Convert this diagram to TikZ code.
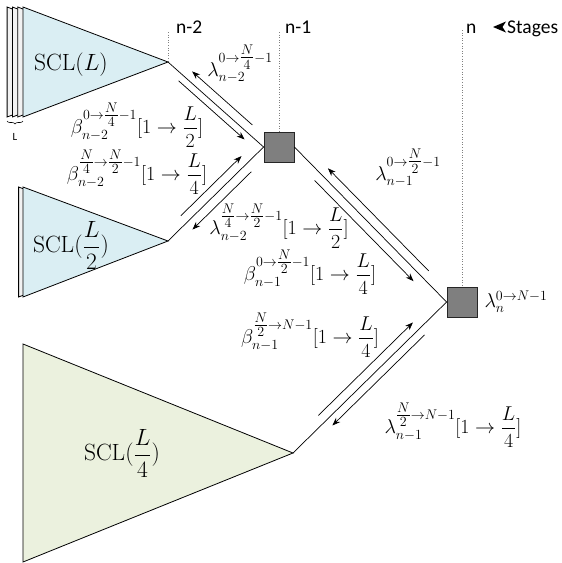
\RequirePackage{fix-cm}
\documentclass[tikz,border=0pt]{standalone}
\usepackage{amsmath}
\usepackage{fontspec}
\newfontfamily\carl{Carlito}
\usetikzlibrary{calc,arrows.meta,decorations.pathreplacing}
\definecolor{triblue}{HTML}{DAEEF3}
\definecolor{trigreen}{HTML}{EBF1DE}
\definecolor{layergray}{HTML}{F2F2F2}
\definecolor{boxgray}{HTML}{7F7F7F}
\newcommand{\supfrac}[2]{\genfrac{}{}{}{1}{#1}{#2}}
\begin{document}
\begin{tikzpicture}[x=1pt,y=-1pt,
  tri/.style={draw=black, line width=0.8pt, line join=miter},
  link/.style={line width=0.7pt},
  flow/.style={line width=0.7pt,-{Stealth[length=8pt,width=6pt]}},
  stagebox/.style={draw=black!85, fill=boxgray, minimum size=30pt, inner sep=0pt, line width=0.8pt},
  stagemark/.style={dotted, line width=0.6pt, black!50},
  mlab/.style={font=\fontsize{20}{24}\selectfont, inner sep=0pt},
  scllab/.style={font=\fontsize{23.5}{28}\selectfont, inner sep=0pt},
  slab/.style={font=\carl\fontsize{19.5}{23}\selectfont, inner sep=0pt}]
\useasboundingbox (0,0) rectangle (562,563);

% triangles
\coordinate (t1) at (168,62);
\coordinate (t2) at (168,241);
\coordinate (t3) at (293,453);
\foreach \d in {15.9,10.6,5.3}
  \draw[tri, fill=layergray] (23-\d,7) -- (168-\d,62) -- (23-\d,117) -- cycle;
\draw[tri, fill=triblue] (23,7) -- (t1) -- (23,117) -- cycle;
\draw[tri, fill=layergray] (18.6,187) -- (163.6,241) -- (18.6,297) -- cycle;
\draw[tri, fill=triblue] (23,187) -- (t2) -- (23,297) -- cycle;
\draw[tri, fill=trigreen] (23,344) -- (t3) -- (23,562) -- cycle;

\node[scllab] (scl1) at (71,65) {$\mathrm{SCL}(L)$};
\node[scllab] (scl2) at (71,245) {$\mathrm{SCL}(\dfrac{L}{2})$};
\node[scllab] (scl3) at (122,453) {$\mathrm{SCL}(\dfrac{L}{4})$};

% brace
\draw[decorate, decoration={brace, amplitude=3pt, mirror}, line width=0.6pt] (7,121) -- (23,121);
\node[font=\carl\fontsize{11}{13}\selectfont, inner sep=0pt] (llab) at (15,137) {L};

% stage boxes
\node[stagebox] (b1) at (279,147) {};
\node[stagebox] (b2) at (462,302) {};

% stage markers
\coordinate (s2) at (168,32);
\coordinate (s1) at (279,32);
\coordinate (s0) at (462,30);
\draw[stagemark] (s2) -- (t1);
\draw[stagemark] (s1) -- (b1.north);
\draw[stagemark] (s0) -- (b2.north);
\node[slab, anchor=base west] (n2) at (176,33) {n-2};
\node[slab, anchor=base west] (n1) at (285,33) {n-1};
\node[slab, anchor=base west] (n0) at (466,33) {n};
\node[slab, anchor=base west] (stg) at (507,33) {Stages};
\fill (493,27) -- (506,21.5) -- (502.5,27) -- (506,32.5) -- cycle;

% main links
\draw[link] (t1) -- (b1.west);
\draw[link] (t2) -- (b1.west);
\draw[link] (b1.east) -- (b2.west);
\draw[link] (t3) -- (b2.west);

% flow arrows
\draw[flow] ($(t1)!0.82!(b1.west)!9pt!90:(b1.west)$) -- ($(t1)!0.19!(b1.west)!9pt!90:(b1.west)$);
\draw[flow] ($(t1)!0.16!(b1.west)!7pt!-90:(b1.west)$) -- ($(t1)!0.85!(b1.west)!7pt!-90:(b1.west)$);

\draw[flow] ($(t2)!0.20!(b1.west)!9pt!90:(b1.west)$) -- ($(t2)!0.835!(b1.west)!9pt!90:(b1.west)$);
\draw[flow] ($(t2)!0.805!(b1.west)!9pt!-90:(b1.west)$) -- ($(t2)!0.19!(b1.west)!9pt!-90:(b1.west)$);

\draw[flow] ($(b1.east)!0.84!(b2.west)!9pt!90:(b2.west)$) -- ($(b1.east)!0.178!(b2.west)!9pt!90:(b2.west)$);
\draw[flow] ($(b1.east)!0.175!(b2.west)!9pt!-90:(b2.west)$) -- ($(b1.east)!0.825!(b2.west)!9pt!-90:(b2.west)$);

\draw[flow] ($(t3)!0.206!(b2.west)!9pt!90:(b2.west)$) -- ($(t3)!0.822!(b2.west)!9pt!90:(b2.west)$);
\draw[flow] ($(t3)!0.82!(b2.west)!8pt!-90:(b2.west)$) -- ($(t3)!0.22!(b2.west)!8pt!-90:(b2.west)$);

% labels
\node[mlab] (lam1) at (240,64) {$\lambda_{n-2}^{0\to\supfrac{N}{4}-1}$};
\node[mlab] (bet1) at (137,125) {$\beta_{n-2}^{0\to\supfrac{N}{4}-1}[1\to\dfrac{L}{2}]$};
\node[mlab] (bet2) at (137,172) {$\beta_{n-2}^{\supfrac{N}{4}\to\supfrac{N}{2}-1}[1\to\dfrac{L}{4}]$};
\node[mlab] (lam2) at (279,226) {$\lambda_{n-2}^{\supfrac{N}{4}\to\supfrac{N}{2}-1}[1\to\dfrac{L}{2}]$};
\node[mlab] (bet3) at (310,272) {$\beta_{n-1}^{0\to\supfrac{N}{2}-1}[1\to\dfrac{L}{4}]$};
\node[mlab] (bet4) at (310,335) {$\beta_{n-1}^{\supfrac{N}{2}\to N-1}[1\to\dfrac{L}{4}]$};
\node[mlab] (lam3) at (408,168) {$\lambda_{n-1}^{0\to\supfrac{N}{2}-1}$};
\node[mlab] (lam4) at (516,302) {$\lambda_{n}^{0\to N-1}$};
\node[mlab] (lam5) at (453,425) {$\lambda_{n-1}^{\supfrac{N}{2}\to N-1}[1\to\dfrac{L}{4}]$};
\end{tikzpicture}
\end{document}
